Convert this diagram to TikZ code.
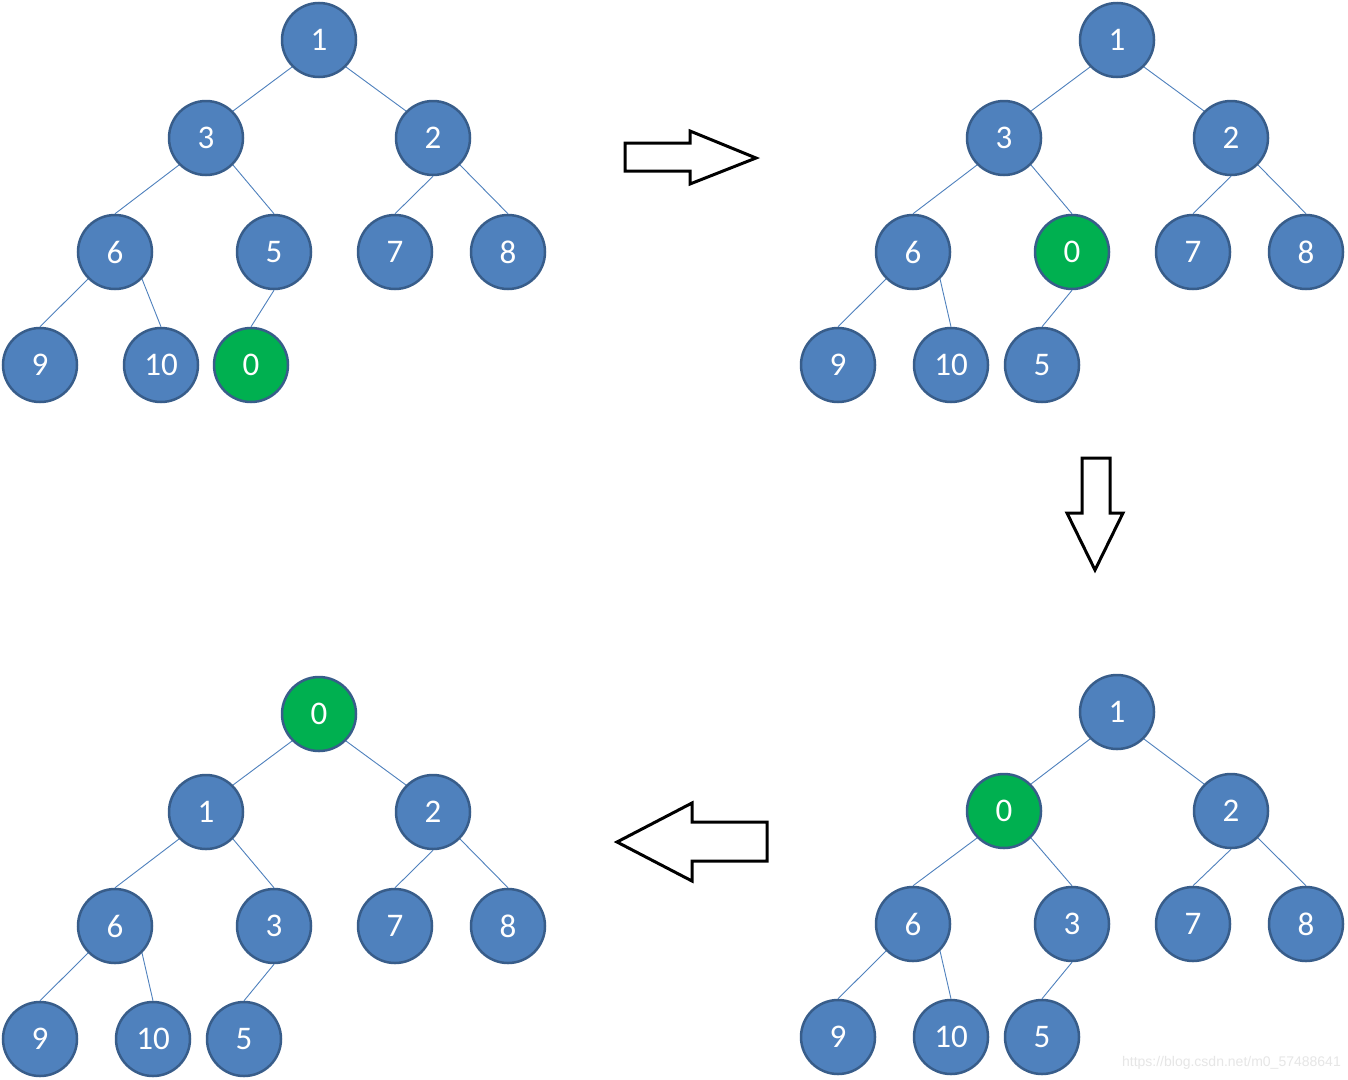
\documentclass[tikz,border=0pt]{standalone}
\usepackage{fontspec}
\setmainfont{Carlito}
\newfontfamily\wmfont{Liberation Sans}
\definecolor{nodeblue}{HTML}{4F81BD}
\definecolor{nodeborder}{HTML}{385D8A}
\definecolor{nodegreen}{HTML}{00B050}
\definecolor{wmgray}{HTML}{E6E6E6}
\tikzset{
  vn/.style={circle, draw=nodeborder, fill=nodeblue, line width=2.5pt, minimum size=74pt, inner sep=0pt, text=white, font=\fontsize{33}{33}\selectfont},
  gn/.style={vn, fill=nodegreen},
  edge/.style={draw=nodeblue, line width=0.9pt},
  bigarrow/.style={draw=black, line width=3pt, fill=white, line join=miter}
}
\begin{document}
\begin{tikzpicture}[x=1pt,y=-1pt]
\useasboundingbox[fill=white] (0,0) rectangle (1348,1079);

% ---------- Tree A (top left) ----------
\node[vn] (a1) at (319,40) {1};
\node[vn] (a3) at (206,138) {3};
\node[vn] (a2) at (433,138) {2};
\node[vn] (a6) at (115,252) {6};
\node[vn] (a5) at (274,252) {5};
\node[vn] (a7) at (395,252) {7};
\node[vn] (a8) at (508,252) {8};
\node[vn] (a9) at (40,365) {9};
\node[vn] (a10) at (161,365) {10};
\node[gn] (a0) at (251,365) {0};
\draw[edge] (a1.south west) -- (a3.north east);
\draw[edge] (a1.south east) -- (a2.north west);
\draw[edge] (a3.south west) -- (a6.north);
\draw[edge] (a3.south east) -- (a5.north);
\draw[edge] (a2.south) -- (a7.north);
\draw[edge] (a2.south east) -- (a8.north);
\draw[edge] (a6.south west) -- (a9.north);
\draw[edge] (a6.south east) -- (a10.north);
\draw[edge] (a5.south) -- (a0.north);

% ---------- Tree B (top right) ----------
\node[vn] (b1) at (1117,40) {1};
\node[vn] (b3) at (1004,138) {3};
\node[vn] (b2) at (1231,138) {2};
\node[vn] (b6) at (913,252) {6};
\node[gn] (b0) at (1072,252) {0};
\node[vn] (b7) at (1193,252) {7};
\node[vn] (b8) at (1306,252) {8};
\node[vn] (b9) at (838,365) {9};
\node[vn] (b10) at (951,365) {10};
\node[vn] (b5) at (1042,365) {5};
\draw[edge] (b1.south west) -- (b3.north east);
\draw[edge] (b1.south east) -- (b2.north west);
\draw[edge] (b3.south west) -- (b6.north);
\draw[edge] (b3.south east) -- (b0.north);
\draw[edge] (b2.south) -- (b7.north);
\draw[edge] (b2.south east) -- (b8.north);
\draw[edge] (b6.south west) -- (b9.north);
\draw[edge] (b6.south east) -- (b10.north);
\draw[edge] (b0.south) -- (b5.north);

% ---------- Tree C (bottom right) ----------
\node[vn] (c1) at (1117,712) {1};
\node[gn] (c0) at (1004,811) {0};
\node[vn] (c2) at (1231,811) {2};
\node[vn] (c6) at (913,924) {6};
\node[vn] (c3) at (1072,924) {3};
\node[vn] (c7) at (1193,924) {7};
\node[vn] (c8) at (1306,924) {8};
\node[vn] (c9) at (838,1037) {9};
\node[vn] (c10) at (951,1037) {10};
\node[vn] (c5) at (1042,1037) {5};
\draw[edge] (c1.south west) -- (c0.north east);
\draw[edge] (c1.south east) -- (c2.north west);
\draw[edge] (c0.south west) -- (c6.north);
\draw[edge] (c0.south east) -- (c3.north);
\draw[edge] (c2.south) -- (c7.north);
\draw[edge] (c2.south east) -- (c8.north);
\draw[edge] (c6.south west) -- (c9.north);
\draw[edge] (c6.south east) -- (c10.north);
\draw[edge] (c3.south) -- (c5.north);

% ---------- Tree D (bottom left) ----------
\node[gn] (d0) at (319,714) {0};
\node[vn] (d1) at (206,812) {1};
\node[vn] (d2) at (433,812) {2};
\node[vn] (d6) at (115,926) {6};
\node[vn] (d3) at (274,926) {3};
\node[vn] (d7) at (395,926) {7};
\node[vn] (d8) at (508,926) {8};
\node[vn] (d9) at (40,1039) {9};
\node[vn] (d10) at (153,1039) {10};
\node[vn] (d5) at (244,1039) {5};
\draw[edge] (d0.south west) -- (d1.north east);
\draw[edge] (d0.south east) -- (d2.north west);
\draw[edge] (d1.south west) -- (d6.north);
\draw[edge] (d1.south east) -- (d3.north);
\draw[edge] (d2.south) -- (d7.north);
\draw[edge] (d2.south east) -- (d8.north);
\draw[edge] (d6.south west) -- (d9.north);
\draw[edge] (d6.south east) -- (d10.north);
\draw[edge] (d3.south) -- (d5.north);

% ---------- Big arrows ----------
\draw[bigarrow] (625,143) -- (690,143) -- (690,131) -- (756,158) -- (690,184) -- (690,171) -- (625,171) -- cycle;
\draw[bigarrow] (1082,458) -- (1110,458) -- (1110,513) -- (1123,513) -- (1095,570) -- (1067,513) -- (1082,513) -- cycle;
\draw[bigarrow] (767,822) -- (692,822) -- (692,803) -- (617,842) -- (692,881) -- (692,861) -- (767,861) -- cycle;

% ---------- Watermark ----------
\node[anchor=base east, inner sep=0pt, text=wmgray, font=\wmfont\fontsize{14}{14}\selectfont] (wm) at (1341,1066) {https://blog.csdn.net/m0\_57488641};
\end{tikzpicture}
\end{document}
